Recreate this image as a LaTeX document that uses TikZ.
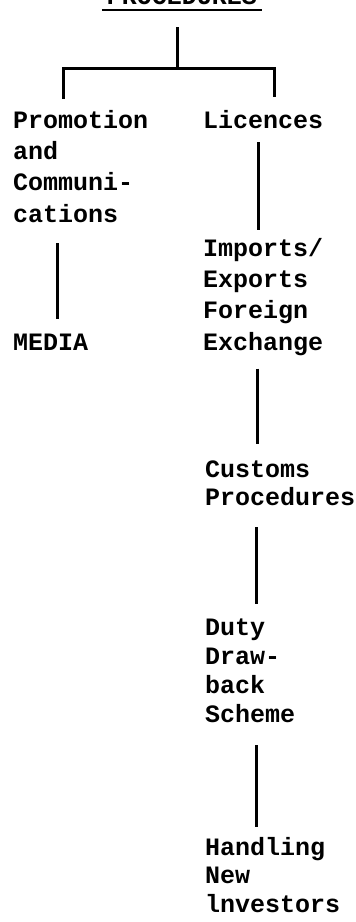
\documentclass[tikz,border=0pt]{standalone}
\usepackage{fontspec}
\setmonofont{Liberation Mono}
\begin{document}
\begin{tikzpicture}[x=1pt,y=-1pt,
  lbl/.style={inner sep=0pt, anchor=base west, align=left,
    font=\ttfamily\bfseries\fontsize{25}{30}\selectfont},
  conn/.style={line width=3pt}]
\useasboundingbox (0,0) rectangle (356,922);
% title (cut off at the top edge)
\node[lbl, anchor=base] (title) at (182,4) {PROCEDURES};
\draw[line width=2pt] ([xshift=-5pt,yshift=-5.5pt]title.base west) -- ([xshift=5pt,yshift=-5.5pt]title.base east);
% labels (anchored at the baseline of their last line)
\node[lbl, font=\ttfamily\bfseries\fontsize{25}{31.3}\selectfont] (prom) at (13,222) {Promotion\\and\\Communi-\\cations};
\node[lbl] (media) at (13,350) {MEDIA};
\node[lbl] (lic) at (203,128) {Licences};
\node[lbl, font=\ttfamily\bfseries\fontsize{25}{31.3}\selectfont] (imp) at (203,350) {Imports/\\Exports\\Foreign\\Exchange};
\node[lbl, font=\ttfamily\bfseries\fontsize{25}{28}\selectfont] (cus) at (205,505) {Customs\\Procedures};
\node[lbl, font=\ttfamily\bfseries\fontsize{25}{29}\selectfont] (duty) at (205,722) {Duty\\Draw-\\back\\Scheme};
\node[lbl, font=\ttfamily\bfseries\fontsize{25}{28.5}\selectfont] (hand) at (205,912) {Handling\\New\\lnvestors};
% junctions
\coordinate (j) at (177,68);
\coordinate (jl) at (63,68);
\coordinate (jr) at (274,68);
% connectors
\draw[conn, shorten <=23pt] (title.base -| j) -- (j);
\draw[conn, shorten <=11pt, shorten >=13pt] (prom.north -| jl) -- (jl) -- (jr) -- (lic.north -| jr);
\draw[conn, shorten <=21pt, shorten >=14pt] (prom.south -| 57,0) -- (media.north -| 57,0);
\draw[conn, shorten <=14pt, shorten >=8pt] (lic.south -| 258,0) -- (imp.north -| 258,0);
\draw[conn, shorten <=13pt, shorten >=16pt] (imp.south -| 257,0) -- (cus.north -| 257,0);
\draw[conn, shorten <=22pt, shorten >=14pt] (cus.south -| 256,0) -- (duty.north -| 256,0);
\draw[conn, shorten <=23pt, shorten >=10pt] (duty.south -| 256,0) -- (hand.north -| 256,0);
\end{tikzpicture}
\end{document}
